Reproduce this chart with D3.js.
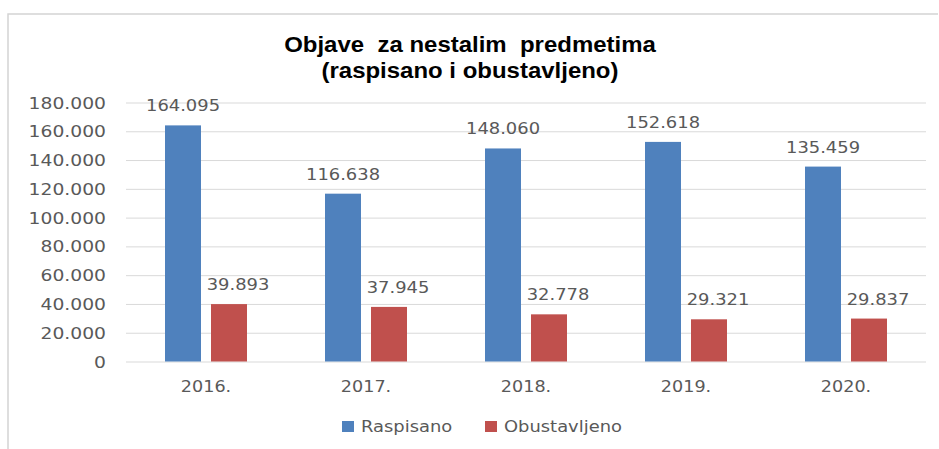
<!DOCTYPE html>
<html><head><meta charset="utf-8">
<script src="https://cdn.jsdelivr.net/npm/d3@7"></script>
<style>body{margin:0;background:#fff;} svg{display:block;} text{white-space:pre;}</style>
</head><body>
<svg id="c" width="939" height="449"></svg>
<script>
const categories = ["2016.", "2017.", "2018.", "2019.", "2020."];
const raspisano = [164095, 116638, 148060, 152618, 135459];
const obustavljeno = [39893, 37945, 32778, 29321, 29837];
const seriesNames = ["Raspisano", "Obustavljeno"];
const yTicks = [0, 20000, 40000, 60000, 80000, 100000, 120000, 140000, 160000, 180000];
const titleLines = ["Objave  za nestalim  predmetima", "(raspisano i obustavljeno)"];
const colors = ["#4f81bd", "#c0504d"];

const svg = d3.select("#c");
const fmt = v => d3.format(",")(v).replace(/,/g, ".");
const labelFont = "DejaVu Sans, Verdana, sans-serif";
const grey = "#595959";
const SX = 1.12;

function stretchText(sel, x, yy, anchor, size, sx, txt, extra) {
  const t = sel.append("text").attr("transform", `translate(${x},${yy}) scale(${sx},1)`)
    .attr("text-anchor", anchor).attr("fill", grey)
    .style("font-family", labelFont).style("font-size", size + "px").text(txt);
  return t;
}

// frame
svg.append("path").attr("d", "M8,449 L8,14 L938,14").attr("fill","none").attr("stroke","#d4d4d4").attr("stroke-width",1.5);

const x0 = d3.scaleBand().domain(categories).range([126, 926]).paddingInner(0).paddingOuter(0);
const y = d3.scaleLinear().domain([0, 180000]).range([361.5, 102.5]);

// gridlines + axis
const yAxis = d3.axisLeft(y).tickValues(yTicks).tickSize(-(926-126)).tickFormat("");
const ga = svg.append("g").attr("transform","translate(126,0)").call(yAxis);
ga.select(".domain").remove();
ga.selectAll(".tick line").attr("stroke","#d9d9d9").attr("stroke-width",1);
ga.selectAll(".tick").each(function(d){
  stretchText(d3.select(this), -20, 5.5, "end", 16, 1.17, fmt(d));
});

const barW = 36, gap = 10;
const data = categories.map((c,i)=>({c, vals:[raspisano[i], obustavljeno[i]]}));
const g = svg.append("g");
data.forEach(d=>{
  const cx = x0(d.c) + x0.bandwidth()/2;
  d.vals.forEach((v,j)=>{
    const bx = cx + (j===0 ? -(gap/2+barW) : gap/2);
    g.append("rect").attr("x",bx).attr("y",y(v)).attr("width",barW).attr("height",y(0)-y(v)).attr("fill",colors[j]);
    stretchText(g, bx + barW/2 + (j===1?9:0), y(v)-14, "middle", 16, SX, fmt(v));
  });
  stretchText(svg, cx, 392, "middle", 16, 1.1, d.c);
});

// title
titleLines.forEach((t,i)=>{
  svg.append("text").attr("transform",`translate(470,${52+i*25.5}) scale(1.09,1)`).attr("text-anchor","middle")
    .style("font-family","Liberation Sans, Arial, sans-serif").style("font-weight","bold").style("font-size","22px").attr("fill","#000").text(t);
});

// legend
const legX = [342, 485];
seriesNames.forEach((n,i)=>{
  svg.append("rect").attr("x",legX[i]).attr("y",421).attr("width",12).attr("height",11).attr("fill",colors[i]);
  stretchText(svg, legX[i]+19, 432, "start", 16, SX, n);
});
</script>
</body></html>
